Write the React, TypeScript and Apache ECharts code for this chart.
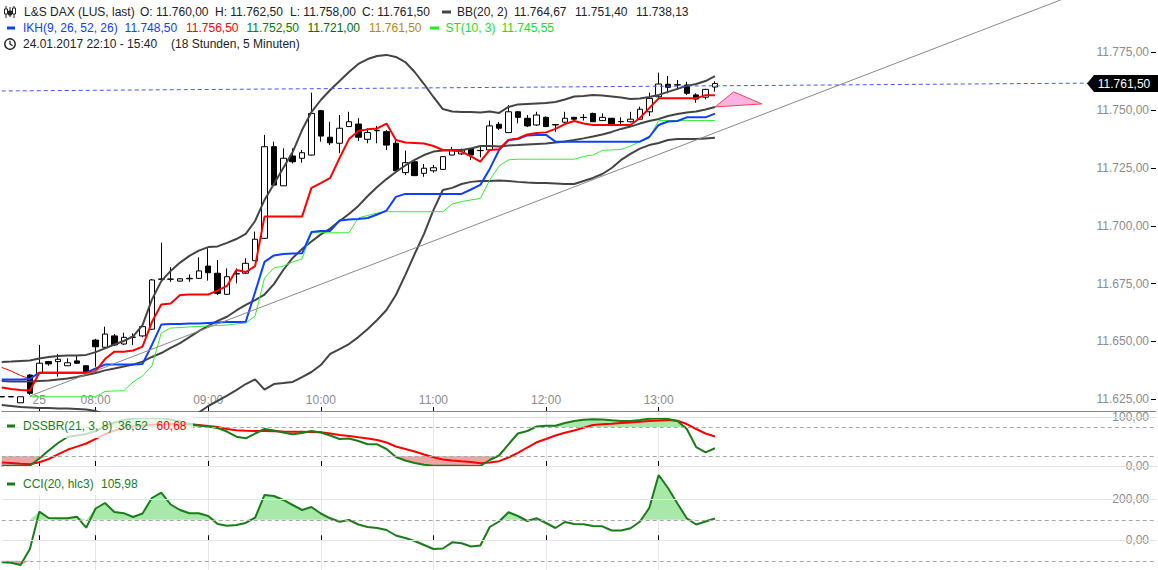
import React, { useEffect, useRef } from 'react';
import * as echarts from 'echarts';

const FONT = 'Liberation Sans, Arial, Helvetica, sans-serif';
const N_SLOTS = 124;

// x-axis ticks (category slot index -> label)
const tickSlots = [4, 10, 22, 34, 46, 58, 70];
const tickLabels = ['25', '08:00', '09:00', '10:00', '11:00', '12:00', '13:00'];

// right axis tick values
const priceTicks = [11625, 11650, 11675, 11700, 11725, 11750, 11775];
const dssTicks = [0, 100];
const cciTicks = [0, 200];

// 5-minute candles
const open = [
  11626.0, 11626.0, 11623.5, 11635.5, 11636.2, 11641.3, 11641.3, 11639.5, 11641.6, 11639.5,
  11650.6, 11647.5, 11652.4, 11648.9, 11651.8, 11652.4, 11655.3, 11676.9, 11676.9, 11676.1,
  11677.1, 11677.3, 11682.6, 11679.5, 11670.4, 11679.2, 11679.5, 11684.9, 11694.6, 11734.2,
  11717.3, 11730.2, 11729.2, 11730.6, 11749.8, 11738.3, 11735.7, 11742.9, 11744.0, 11737.4,
  11741.1, 11740.7, 11735.7, 11723.0, 11727.7, 11722.7, 11723.8, 11724.4, 11730.6, 11731.1,
  11733.5, 11732.5, 11732.8, 11743.9, 11740.3, 11749.3, 11746.5, 11743.6, 11746.9, 11743.6,
  11744.8, 11746.9, 11746.8, 11748.6, 11745.5, 11746.5, 11745.0, 11745.0, 11746.1, 11749.3,
  11755.8, 11761.2, 11760.9, 11760.9, 11756.6, 11755.6, 11760.0,
];
const close = [
  11626.2, 11626.2, 11626.1, 11627.6, 11640.6, 11640.3, 11642.3, 11640.8, 11640.6, 11636.5,
  11647.7, 11653.2, 11648.5, 11651.8, 11651.9, 11656.4, 11676.6, 11677.0, 11677.0, 11677.1,
  11677.3, 11680.5, 11679.7, 11670.8, 11678.0, 11679.3, 11683.8, 11694.2, 11734.2, 11717.6,
  11729.2, 11727.7, 11731.6, 11748.6, 11738.8, 11735.9, 11742.2, 11745.0, 11738.3, 11740.3,
  11741.3, 11734.9, 11723.8, 11727.3, 11721.7, 11724.9, 11725.1, 11729.9, 11732.5, 11732.8,
  11730.6, 11732.6, 11743.2, 11742.2, 11749.3, 11746.9, 11743.2, 11747.9, 11742.9, 11743.8,
  11746.5, 11746.1, 11746.9, 11745.0, 11746.9, 11744.0, 11745.1, 11746.1, 11750.4, 11755.1,
  11761.3, 11759.9, 11761.0, 11757.3, 11754.8, 11759.0, 11761.5,
];
const low = [
  11626.0, 11626.0, 11623.5, 11626.9, 11635.9, 11639.5, 11634.8, 11639.4, 11640.3, 11636.2,
  11639.1, 11647.2, 11648.0, 11648.5, 11648.5, 11651.8, 11655.0, 11676.1, 11675.8, 11675.9,
  11675.8, 11677.0, 11676.3, 11670.1, 11670.1, 11675.1, 11679.2, 11684.8, 11694.3, 11717.4,
  11717.2, 11727.0, 11727.3, 11730.4, 11736.4, 11734.9, 11731.4, 11742.7, 11736.8, 11735.7,
  11735.7, 11732.8, 11723.7, 11722.0, 11721.5, 11721.2, 11723.0, 11724.1, 11730.4, 11730.6,
  11728.5, 11729.6, 11732.3, 11741.4, 11740.1, 11744.3, 11742.7, 11743.2, 11742.7, 11740.7,
  11744.5, 11745.8, 11745.5, 11744.9, 11745.3, 11743.8, 11743.6, 11744.7, 11745.8, 11747.5,
  11754.7, 11757.3, 11758.7, 11756.6, 11753.2, 11754.7, 11758.0,
];
const high = [
  11626.2, 11626.2, 11626.1, 11635.9, 11648.5, 11641.6, 11644.6, 11642.7, 11643.7, 11639.8,
  11651.1, 11656.4, 11653.2, 11653.8, 11653.5, 11657.6, 11677.0, 11692.7, 11682.1, 11677.4,
  11679.0, 11686.4, 11690.3, 11685.2, 11681.6, 11681.6, 11686.0, 11697.5, 11739.3, 11736.4,
  11733.5, 11733.5, 11732.8, 11757.6, 11750.1, 11745.0, 11747.9, 11749.3, 11746.5, 11742.2,
  11743.2, 11741.4, 11737.1, 11732.5, 11728.5, 11726.7, 11726.3, 11730.2, 11734.2, 11733.4,
  11733.6, 11734.2, 11745.5, 11744.9, 11752.2, 11749.6, 11747.9, 11749.3, 11747.3, 11744.0,
  11749.3, 11747.1, 11748.3, 11748.9, 11748.6, 11746.6, 11746.9, 11749.3, 11751.5, 11757.6,
  11766.2, 11764.8, 11763.0, 11762.3, 11757.3, 11759.2, 11762.5,
];

// Bollinger Bands (20, 2)
const bbUpper = [
  11641.1, 11641.3, 11641.6, 11641.8, 11642.6, 11643.3, 11643.7, 11643.9, 11643.9, 11644.2,
  11645.4, 11647.0, 11648.7, 11650.2, 11652.2, 11657.1, 11668.1, 11676.1, 11680.5, 11684.1,
  11687.0, 11689.3, 11690.8, 11691.1, 11692.6, 11694.3, 11696.5, 11702.1, 11711.2, 11718.1,
  11725.0, 11731.9, 11741.4, 11749.2, 11754.4, 11758.7, 11762.6, 11766.5, 11770.0, 11772.1,
  11773.4, 11773.9, 11773.0, 11770.8, 11766.5, 11761.3, 11755.7, 11750.5, 11749.4, 11749.2,
  11749.2, 11749.0, 11749.4, 11748.8, 11751.4, 11752.5, 11752.7, 11752.9, 11753.1, 11753.5,
  11754.6, 11755.9, 11756.1, 11756.6, 11756.3, 11755.9, 11755.5, 11754.8, 11755.0, 11755.7,
  11756.6, 11757.9, 11759.2, 11760.5, 11761.3, 11762.6, 11764.7,
];
const bbMiddle = [
  11632.9, 11632.7, 11632.7, 11632.7, 11632.9, 11633.1, 11633.6, 11634.0, 11634.6, 11635.5,
  11636.4, 11637.5, 11638.3, 11639.2, 11640.0, 11641.3, 11643.3, 11645.0, 11647.2, 11649.3,
  11651.9, 11654.5, 11656.7, 11658.9, 11660.7, 11663.4, 11665.8, 11667.9, 11670.3, 11674.8,
  11680.9, 11686.1, 11690.0, 11693.2, 11696.3, 11698.8, 11702.1, 11705.1, 11708.6, 11712.9,
  11716.8, 11720.2, 11723.3, 11726.1, 11728.5, 11730.6, 11732.1, 11732.6, 11732.8, 11732.8,
  11733.4, 11734.5, 11734.5, 11734.3, 11734.7, 11734.9, 11735.2, 11735.4, 11735.6, 11736.0,
  11736.5, 11737.1, 11737.8, 11738.6, 11739.5, 11740.6, 11741.9, 11742.9, 11744.2, 11745.3,
  11746.2, 11747.5, 11748.3, 11749.0, 11749.4, 11750.3, 11751.4,
];
const bbLower = [
  11622.5, 11622.1, 11621.7, 11621.5, 11621.2, 11621.2, 11621.0, 11621.0, 11620.8, 11620.6,
  11619.9, 11618.6, 11617.4, 11616.5, 11615.6, 11614.8, 11613.9, 11613.5, 11613.9, 11614.8,
  11616.9, 11619.3, 11622.1, 11624.3, 11626.6, 11629.0, 11631.6, 11633.6, 11629.2, 11631.6,
  11632.0, 11632.5, 11634.6, 11636.8, 11639.8, 11644.6, 11646.7, 11648.9, 11651.9, 11655.4,
  11659.3, 11663.6, 11670.1, 11678.7, 11687.8, 11696.5, 11706.8, 11715.5, 11716.4, 11718.1,
  11719.0, 11719.4, 11719.4, 11719.6, 11719.4, 11719.0, 11718.7, 11718.5, 11718.5, 11718.3,
  11718.1, 11718.1, 11719.4, 11720.7, 11722.4, 11725.0, 11728.5, 11731.1, 11733.4, 11734.9,
  11735.8, 11737.1, 11737.5, 11737.5, 11737.5, 11737.8, 11738.1,
];

// Ichimoku (tenkan red, kijun blue)
const ikhTenkan = [
  11630.1, 11629.5, 11629.0, 11628.8, 11636.5, 11636.5, 11636.5, 11636.5, 11636.5, 11636.5,
  11637.2, 11642.4, 11645.6, 11645.6, 11646.1, 11647.8, 11658.4, 11666.0, 11666.4, 11670.1,
  11670.3, 11670.3, 11670.3, 11672.0, 11674.0, 11680.9, 11680.0, 11682.6, 11704.0, 11704.0,
  11704.0, 11704.0, 11704.0, 11716.4, 11718.5, 11720.7, 11729.3, 11737.5, 11741.0, 11741.7,
  11742.1, 11744.2, 11737.1, 11736.0, 11735.8, 11735.6, 11734.5, 11732.8, 11732.6, 11732.1,
  11730.0, 11727.8, 11732.8, 11733.1, 11737.1, 11737.8, 11739.5, 11740.1, 11740.4, 11741.9,
  11744.0, 11745.3, 11744.2, 11743.6, 11743.6, 11743.6, 11743.6, 11743.6, 11746.6, 11750.9,
  11755.1, 11755.1, 11755.1, 11755.1, 11755.1, 11756.5, 11756.5,
];
const ikhKijun = [
  11633.6, 11633.6, 11633.6, 11633.8, 11636.5, 11636.5, 11636.5, 11636.5, 11636.5, 11636.5,
  11638.3, 11640.0, 11640.0, 11640.0, 11640.0, 11640.3, 11648.5, 11657.3, 11657.6, 11657.6,
  11657.8, 11657.8, 11658.0, 11658.2, 11658.4, 11658.4, 11658.5, 11671.4, 11684.4, 11687.2,
  11687.8, 11688.0, 11688.1, 11697.3, 11697.8, 11697.8, 11702.3, 11702.7, 11702.9, 11703.4,
  11704.9, 11706.6, 11712.5, 11713.8, 11713.8, 11713.8, 11713.8, 11713.8, 11713.8, 11713.8,
  11715.7, 11717.7, 11724.6, 11732.8, 11737.1, 11737.5, 11739.1, 11739.3, 11739.3, 11736.4,
  11736.4, 11736.4, 11736.4, 11736.4, 11736.4, 11736.4, 11736.4, 11736.4, 11736.4, 11738.4,
  11743.6, 11745.1, 11745.3, 11746.9, 11746.9, 11746.9, 11748.5,
];

// SuperTrend (10, 3): up-trend (green) and down-trend (red)
const stUp = [
  null, null, null, 11626.1, 11626.1, 11626.1, 11626.1, 11626.1, 11626.1, 11626.1,
  11626.1, 11628.4, 11628.6, 11628.7, 11632.5, 11635.1, 11639.4, 11653.7, 11655.8, 11656.0,
  11656.3, 11656.5, 11656.7, 11656.9, 11657.1, 11657.6, 11658.0, 11661.0, 11677.4, 11681.8,
  11682.6, 11684.4, 11685.7, 11697.0, 11697.0, 11697.0, 11697.0, 11697.0, 11703.4, 11704.5,
  11705.5, 11706.1, 11706.1, 11706.1, 11706.1, 11706.1, 11706.1, 11706.1, 11709.4, 11710.5,
  11711.2, 11711.8, 11719.8, 11725.9, 11728.5, 11728.8, 11728.8, 11728.8, 11728.8, 11728.8,
  11728.8, 11728.8, 11730.0, 11730.6, 11732.6, 11732.8, 11733.0, 11734.5, 11736.4, 11738.0,
  11745.5, 11745.5, 11745.5, 11745.5, 11745.5, 11745.5, 11745.5,
];
const stDown = [11638.8, 11637.2, 11635.3, 11633.8];

// drawn annotations: [slot, price]
const trendPoints = [[3, 11626.4], [123, 11813.5]];
const priceLinePoints = [[0, 11758.3], [116, 11761.7]];
const trianglePoints = [[76, 11751.4], [78, 11757.9], [81, 11752.7]];
const lastClose = 11761.5;

// DSS Bressert (21, 3, 8)
const dssK = [
  0.6, 0.6, 0.6, 0.6, 15.4, 31.8, 47.2, 59.5, 62.6, 65.7,
  71.9, 82.1, 89.3, 94.5, 97.5, 98.6, 99.2, 98.6, 95.5, 91.4,
  86.2, 83.2, 81.1, 78.0, 70.8, 60.2, 56.9, 66.7, 76.0, 72.9,
  68.8, 65.1, 67.8, 71.9, 68.8, 62.6, 55.4, 56.5, 51.3, 44.6,
  44.6, 34.9, 18.5, 11.3, 6.2, 2.5, 0.6, 0.6, 0.6, 0.6,
  0.0, 0.0, 12.3, 21.6, 44.6, 66.7, 71.9, 81.1, 82.8, 82.8,
  88.3, 92.4, 95.1, 95.9, 95.5, 93.8, 92.4, 92.4, 94.5, 96.9,
  97.9, 96.5, 92.4, 76.0, 39.0, 28.1, 36.52,
];
const dssSignal = [
  7.4, 6.2, 4.7, 3.5, 7.8, 14.4, 24.0, 33.3, 39.8, 46.2,
  55.6, 65.3, 72.9, 78.0, 81.1, 83.2, 84.6, 85.6, 86.2, 86.2,
  85.8, 84.2, 82.1, 80.1, 76.0, 73.3, 72.5, 71.9, 71.9, 71.5,
  71.0, 70.6, 70.2, 69.8, 69.2, 66.7, 63.7, 61.6, 58.9, 56.5,
  53.4, 48.3, 40.0, 34.9, 29.8, 23.6, 17.9, 13.3, 11.3, 9.7,
  8.2, 5.5, 7.2, 9.9, 17.5, 27.1, 38.0, 48.7, 55.4, 62.6,
  68.2, 72.9, 78.4, 84.2, 85.6, 86.9, 88.3, 89.3, 90.8, 92.2,
  93.4, 94.5, 93.0, 86.2, 76.0, 66.7, 60.68,
];

// CCI (20, hlc3)
const cci = [
  -107.3, -109.3, -120.5, -42.4, 139.5, 108.8, 107.3, 107.3, 115.1, 61.5,
  155.1, 181.9, 138.0, 132.2, 113.7, 130.7, 206.3, 232.2, 174.6, 147.8,
  131.7, 131.7, 118.5, 79.5, 71.2, 74.6, 84.4, 110.2, 221.0, 216.1,
  196.6, 172.2, 147.8, 162.4, 130.7, 107.3, 90.7, 99.0, 77.1, 64.9,
  60.0, 50.2, 23.4, 11.2, -3.4, -22.9, -42.4, -40.0, -9.8, -14.6,
  -30.2, -25.4, 64.9, 91.7, 136.6, 118.5, 94.1, 107.3, 84.4, 60.0,
  89.3, 79.5, 78.0, 69.8, 68.3, 47.8, 47.8, 58.5, 90.7, 157.6,
  318.5, 255.1, 179.5, 107.3, 77.1, 91.7, 105.98,
];

// header values
const headerOHLC = [11760.0, 11762.5, 11758.0, 11761.5];
const bbLast = [11764.67, 11751.4, 11738.13];
const ikhLast = [11748.5, 11756.5, 11752.5, 11721.0, 11761.5];
const stLast = 11745.55;
const dssLast = [36.52, 60.68];
const cciLast = 105.98;

const fmtDe = (v: number, d = 2) => {
  const [i, f] = Math.abs(v).toFixed(d).split('.');
  const ii = i.replace(/\B(?=(\d{3})+(?!\d))/g, '.');
  return (v < 0 ? '-' : '') + ii + (d > 0 ? ',' + f : '');
};

const categories = Array.from({ length: N_SLOTS }, (_, i) => {
  const m = 7 * 60 + 30 + (i - 4) * 5;
  const hh = Math.floor(m / 60);
  const mm = m % 60;
  return `${String(hh).padStart(2, '0')}:${String(mm).padStart(2, '0')}`;
});

const isTick = (index: number) => tickSlots.includes(index);

const GREEN = '#1a7d1a';
const RED = '#ff0000';
const BLUE = '#1040ff';
const BB = '#444444';
const FILL_G = '#a8e8a8';
const FILL_R = '#eba5a5';

function buildOption() {
  const xBase = (gridIndex: number, labels: boolean, split: boolean, tickLen: number) => ({
    type: 'category',
    gridIndex,
    data: categories,
    boundaryGap: false,
    axisLine: { show: gridIndex !== 2, lineStyle: { color: '#8a8a8a', width: 1 } },
    axisTick: { show: true, inside: true, length: tickLen, interval: isTick, lineStyle: { color: '#000' } },
    axisLabel: {
      show: labels,
      inside: true,
      interval: isTick,
      margin: 5,
      color: '#8c8c8c',
      fontSize: 12,
      fontFamily: FONT,
      formatter: (_v: string, idx: number) => {
        const k = tickSlots.indexOf(idx);
        return k >= 0 ? tickLabels[k] : '';
      },
    },
    splitLine: { show: split, interval: isTick, lineStyle: { color: '#e6e6e6', width: 1 } },
  });
  const yBase = (gridIndex: number, min: number, max: number, ticks: number[]) => ({
    type: 'value',
    gridIndex,
    position: 'right',
    min,
    max,
    axisLine: { show: false },
    splitLine: { show: false },
    axisTick: { show: true, inside: true, length: 5, lineStyle: { color: '#000' }, customValues: ticks },
    axisLabel: {
      inside: true,
      margin: 7,
      color: '#8c8c8c',
      fontSize: 12,
      fontFamily: FONT,
      customValues: ticks,
      formatter: (v: number) => fmtDe(v),
    },
  });
  const line = (name: string, data: any[], color: string, width: number, z: number, xi = 0, extra: any = {}) => ({
    name,
    type: 'line',
    xAxisIndex: xi,
    yAxisIndex: xi,
    data,
    symbol: 'none',
    showSymbol: false,
    silent: true,
    z,
    lineStyle: { color, width },
    ...extra,
  });
  const refLines = (solid: number[], dashed: number[]) => ({
    silent: true,
    symbol: ['none', 'none'],
    label: { show: false },
    data: [
      ...solid.map((v) => ({ yAxis: v, lineStyle: { color: '#e3e3e3', type: 'solid', width: 1 } })),
      ...dashed.map((v) => ({ yAxis: v, lineStyle: { color: '#a8a8a8', type: [4, 3], width: 1 } })),
    ],
  });
  const fill = (name: string, data: number[], origin: number, color: string, xi: number, markLine?: any) => ({
    name,
    type: 'line',
    xAxisIndex: xi,
    yAxisIndex: xi,
    data,
    symbol: 'none',
    showSymbol: false,
    silent: true,
    z: 1,
    lineStyle: { width: 0, opacity: 0 },
    areaStyle: { origin, color, opacity: 1 },
    ...(markLine ? { markLine } : {}),
  });

  return {
    animation: false,
    backgroundColor: '#ffffff',
    grid: [
      { left: 1.76, right: 2, top: 0, height: 411 },
      { left: 1.76, right: 2, top: 412, height: 58 },
      { left: 1.76, right: 2, top: 470, height: 100 },
    ],
    xAxis: [xBase(0, true, false, 4), xBase(1, false, true, 5), xBase(2, false, true, 5)],
    yAxis: [
      yBase(0, 11619.94, 11797.63, priceTicks),
      yBase(1, -8.2, 110.9, dssTicks),
      yBase(2, -144.9, 342.9, cciTicks),
    ],
    series: [
      {
        name: 'candles',
        type: 'candlestick',
        xAxisIndex: 0,
        yAxisIndex: 0,
        data: open.map((o, i) => [o, close[i], low[i], high[i]]),
        barWidth: 6,
        silent: true,
        z: 2,
        itemStyle: { color: '#ffffff', color0: '#000000', borderColor: '#000000', borderColor0: '#000000', borderWidth: 1 },
      },
      line('bbUpper', bbUpper, BB, 2, 3),
      line('bbMiddle', bbMiddle, BB, 2, 3),
      line('bbLower', bbLower, BB, 2, 3),
      line('stUp', stUp, '#33ee33', 1, 4),
      line('stDown', stDown, RED, 1, 4),
      line('kijun', ikhKijun, BLUE, 2, 5),
      line('tenkan', ikhTenkan, RED, 2, 6),
      line('trend', trendPoints, '#8a8a8a', 1, 7),
      line('priceLine', priceLinePoints, '#3a5cff', 1, 7, 0, { lineStyle: { color: '#3a5cff', width: 1, type: [4, 3] } }),

      fill('dssAbove', dssK.map((v) => Math.max(v, 80)), 80, FILL_G, 1, refLines([0, 100], [20, 80])),
      fill('dssBelow', dssK.map((v) => Math.min(v, 20)), 20, FILL_R, 1),
      line('dssSignal', dssSignal, RED, 2, 3, 1),
      line('dssK', dssK, GREEN, 2, 4, 1),

      fill('cciAbove', cci.map((v) => Math.max(v, 100)), 100, FILL_G, 2, refLines([0, 200], [-100, 100])),
      fill('cciBelow', cci.map((v) => Math.min(v, -100)), -100, FILL_R, 2),
      line('cci', cci, GREEN, 2, 4, 2),
    ],
  };
}

function staticGraphics() {
  const txt = (x: number, y: number, text: string, fill: string) => ({
    type: 'text',
    x,
    y,
    z: 100,
    silent: true,
    style: { text, fill, fontSize: 12, fontFamily: FONT, verticalAlign: 'middle' },
  });
  const bar = (x: number, y: number, w: number, fill: string) => ({
    type: 'rect',
    z: 100,
    silent: true,
    shape: { x, y: y - 1.5, width: w, height: 3 },
    style: { fill },
  });
  const dark = '#222222';
  const g: any[] = [
    // candle icon
    { type: 'line', z: 100, shape: { x1: 6, y1: 6, x2: 6, y2: 18 }, style: { stroke: dark, lineWidth: 1 } },
    { type: 'rect', z: 100, shape: { x: 4.5, y: 9, width: 3, height: 5 }, style: { fill: '#fff', stroke: dark, lineWidth: 1 } },
    { type: 'line', z: 100, shape: { x1: 10, y1: 7, x2: 10, y2: 17 }, style: { stroke: dark, lineWidth: 1 } },
    { type: 'rect', z: 100, shape: { x: 8.5, y: 11, width: 3, height: 4 }, style: { fill: dark, stroke: dark, lineWidth: 1 } },
    { type: 'line', z: 100, shape: { x1: 14, y1: 6, x2: 14, y2: 18 }, style: { stroke: dark, lineWidth: 1 } },
    { type: 'rect', z: 100, shape: { x: 12.5, y: 8, width: 3, height: 6 }, style: { fill: '#fff', stroke: dark, lineWidth: 1 } },
    txt(24, 12, 'L&S DAX (LUS, last)', dark),
    txt(140, 12, 'O: ' + fmtDe(headerOHLC[0]), dark),
    txt(215, 12, 'H: ' + fmtDe(headerOHLC[1]), dark),
    txt(290, 12, 'L: ' + fmtDe(headerOHLC[2]), dark),
    txt(362, 12, 'C: ' + fmtDe(headerOHLC[3]), dark),
    bar(442, 12, 9, BB),
    txt(457, 12, 'BB(20, 2)', dark),
    txt(514, 12, fmtDe(bbLast[0]), dark),
    txt(575, 12, fmtDe(bbLast[1]), dark),
    txt(636, 12, fmtDe(bbLast[2]), dark),

    bar(7, 28, 8, BLUE),
    txt(23, 28, 'IKH(9, 26, 52, 26)', BLUE),
    txt(124.6, 28, fmtDe(ikhLast[0]), BLUE),
    txt(186, 28, fmtDe(ikhLast[1]), RED),
    txt(246.5, 28, fmtDe(ikhLast[2]), '#008000'),
    txt(307.5, 28, fmtDe(ikhLast[3]), '#006e00'),
    txt(369, 28, fmtDe(ikhLast[4]), '#b8860b'),
    bar(430, 28, 9, '#22ee22'),
    txt(445.5, 28, 'ST(10, 3)', '#22dd22'),
    txt(501.5, 28, fmtDe(stLast), '#22dd22'),

    { type: 'circle', z: 100, shape: { cx: 10, cy: 44, r: 5.2 }, style: { fill: 'none', stroke: dark, lineWidth: 1.4 } },
    { type: 'polyline', z: 100, shape: { points: [[10, 40.8], [10, 44], [12.6, 45.8]] }, style: { fill: 'none', stroke: dark, lineWidth: 1.3 } },
    txt(23, 44, '24.01.2017 22:10 - 15:40', dark),
    txt(171, 44, '(18 Stunden, 5 Minuten)', dark),

    { type: 'rect', z: 99, silent: true, shape: { x: 0, y: 414, width: 193, height: 24 }, style: { fill: 'rgba(255,255,255,0.75)' } },
    bar(7, 426, 8, GREEN),
    txt(23, 426, 'DSSBR(21, 3, 8)', GREEN),
    txt(118, 426, fmtDe(dssLast[0]), GREEN),
    txt(156.5, 426, fmtDe(dssLast[1]), RED),

    { type: 'rect', z: 99, silent: true, shape: { x: 0, y: 473, width: 140, height: 22 }, style: { fill: 'rgba(255,255,255,0.75)' } },
    bar(7, 484, 8, GREEN),
    txt(23, 484, 'CCI(20, hlc3)', GREEN),
    txt(101, 484, fmtDe(cciLast), GREEN),
  ];
  return g;
}

export default function App() {
  const ref = useRef<HTMLDivElement>(null);
  useEffect(() => {
    if (!ref.current) return;
    const chart = echarts.init(ref.current, null, { renderer: 'svg' });
    chart.setOption(buildOption() as any);

    const tagY = (chart.convertToPixel({ gridIndex: 0 } as any, [0, lastClose]) as number[])[1];
    const tri = trianglePoints.map((p) => chart.convertToPixel({ gridIndex: 0 } as any, p) as number[]);

    const dynamic: any[] = [
      {
        type: 'polygon',
        z: 50,
        silent: true,
        shape: { points: tri },
        style: { fill: '#f9b4e2', stroke: '#ff3b5c', lineWidth: 1 },
      },
      {
        type: 'polygon',
        z: 100,
        silent: true,
        shape: { points: [[1087, tagY], [1094, tagY - 8.5], [1158, tagY - 8.5], [1158, tagY + 8.5], [1094, tagY + 8.5]] },
        style: { fill: '#000000' },
      },
      {
        type: 'text',
        z: 101,
        silent: true,
        x: 1124,
        y: tagY,
        style: { text: fmtDe(lastClose), fill: '#ffffff', fontSize: 12, fontFamily: FONT, align: 'center', verticalAlign: 'middle' },
      },
    ];
    chart.setOption({ graphic: [...staticGraphics(), ...dynamic] } as any);
    return () => chart.dispose();
  }, []);
  return <div ref={ref} style={{ position: 'absolute', left: 0, top: 0, width: 1158, height: 570 }} />;
}
